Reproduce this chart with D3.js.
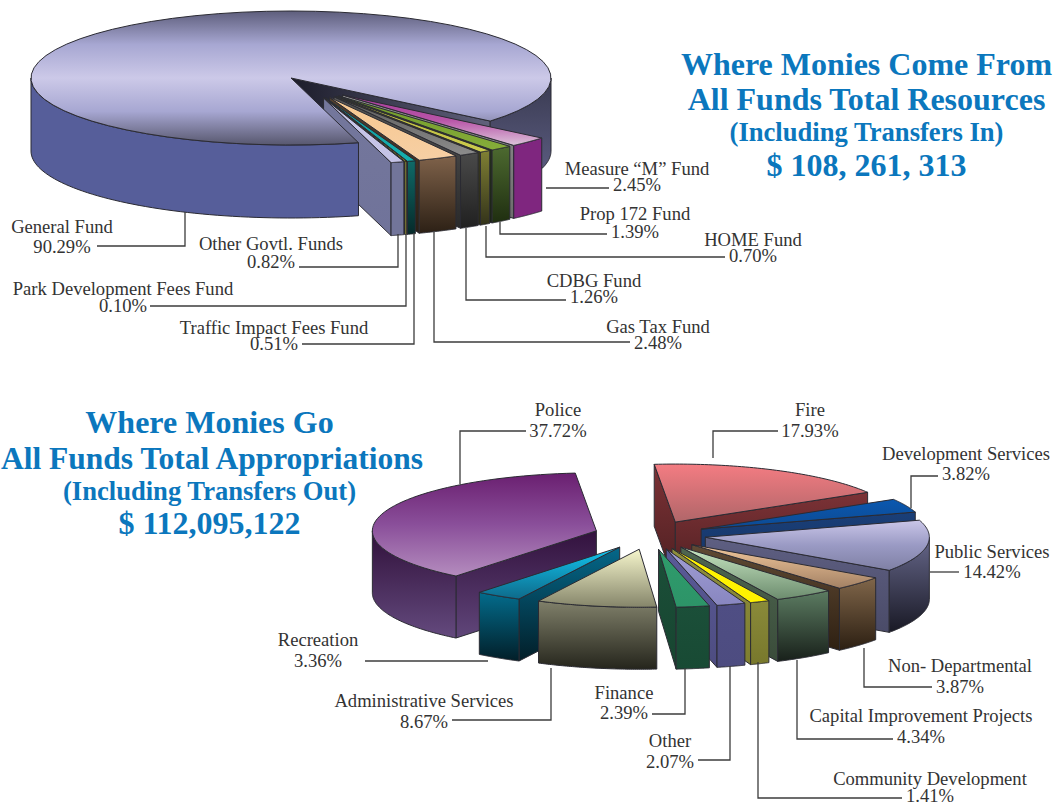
<!DOCTYPE html>
<html>
<head>
<meta charset="utf-8">
<title>Where Monies Come From / Where Monies Go</title>
<script src="https://cdn.jsdelivr.net/npm/d3@7/dist/d3.min.js"></script>
<style>
  html, body { margin: 0; padding: 0; background: #fff; }
  svg { display: block; font-family: "Liberation Serif", serif; }
</style>
</head>
<body>
<svg id="chart" width="1055" height="806"></svg>
<script>
// Revenue by fund, in the order the slices run clockwise from the notch
const sourceNames = ["Measure “M” Fund", "Prop 172 Fund", "HOME Fund", "CDBG Fund", "Gas Tax Fund",
  "Traffic Impact Fees Fund", "Park Development Fees Fund", "Other Govtl. Funds", "General Fund"];
const sourceShares = [2.45, 1.39, 0.70, 1.26, 2.48, 0.51, 0.10, 0.82, 90.29];

// Appropriations by department, clockwise from Fire
const useNames = ["Fire", "Development Services", "Public Services", "Non- Departmental",
  "Capital Improvement Projects", "Community Development", "Other", "Finance",
  "Administrative Services", "Recreation", "Police"];
const useShares = [17.93, 3.82, 14.42, 3.87, 4.34, 1.41, 2.07, 2.39, 8.67, 3.36, 37.72];

const sourceTitle = ["Where Monies Come From", "All Funds Total Resources", "(Including Transfers In)", "$ 108, 261, 313"];
const useTitle = ["Where Monies Go", "All Funds Total Appropriations", "(Including Transfers Out)", "$ 112,095,122"];

// Colour ramps per slice: top face, rim wall, cut wall
const sourceTop = [["#a63c9a","#b855a8","#dcc4da"],["#6f9a28","#86ad3a"],["#b8b83a","#cccc4e"],["#5a5a5a","#8c8c8c"],["#f8c890","#f6cfa4"],
  ["#0f9a9e","#16b0ae"],["#fff200","#fff200"],["#c9c7ea","#c4c2e6"],["#5e5e7c","#a7a7d2","#ccc9e8","#a7a7d2","#57576e"]];
const sourceWall = [["#7f267f","#7f267f"],["#4d6a30","#1f2e10"],["#808034","#33331a"],["#4a4a4a","#202020"],["#7f624a","#2c2015"],
  ["#0f6a68","#062a2a"],["#f4ee30","#f4ee30"],["#72759a","#72759a"],["#565e9a","#565e9a"]];
const sourceCut = [["#8f8f8f","#6d6d6d"],["#2a3a1c","#18220e"],["#4d4d22","#2a2a14"],["#555555","#2a2a2a"],["#55402e","#2a1f14"],
  ["#33443f","#1a2a28"],["#555533","#333320"],["#74779c","#70739a"],["#1c1c2a","#60617c"]];
const generalBackWall = ["#393a50","#62638a"];

const useTop = [["#f47c82","#b06669"],["#0a58b0","#0d4a92"],["#cac6e8","#9a9ac4","#7f80a4"],["#f2c89c","#a38164"],
  ["#c8e6c2","#6c8c6e"],["#fff200","#fff200"],["#a09ed4","#8886c0"],["#2f9c6c","#2d9468"],
  ["#f6f6cc","#85856a"],["#12c6f0","#0e6a8a"],["#6a1f70","#8a4f9a","#b48cbe"]];
const useWall = [["#85393d","#4c1a1d"],["#1b417c","#14305e"],["#66678a","#191925"],["#80664a","#2c1f12"],
  ["#5c7c62","#18201a"],["#8a8a3a","#78782c"],["#4f4e84","#4d4c80"],["#1b4f39","#184a34"],
  ["#80806a","#25251c"],["#036c8c","#021e28"],["#30103a","#644a7e"]];
const useCut = [["#7c3236","#4b1e20"],["#1a3f78","#14305e"],["#5e5f82","#4a4b68"],["#604a34","#2e2012"],
  ["#4e6650","#3a4c3a"],["#8e8e3c","#7e7e30"],["#5a5a98","#4d4c80"],["#1b4f39","#174530"],
  ["#80806a","#25251c"],["#05688a","#021e28"],["#33123e","#60467a"]];

// Placement of each slice's caption and the leader line drawn from it
const sourceLabels = [
  {x:637, y:[175,191], lead:[[609,188],[546,188]]},
  {x:635, y:[220,238], lead:[[607,234],[500,234],[500,222]]},
  {x:753, y:[246,262], lead:[[725,257],[486,257],[486,226]]},
  {x:594, y:[287,303], lead:[[566,300],[466,300],[466,228]]},
  {x:658, y:[333,349], lead:[[630,342],[434,342],[434,232]]},
  {x:274, y:[334,350], lead:[[302,344],[414,344],[414,233]]},
  {x:123, y:[295,312], lead:[[150,306],[406,306],[406,234]]},
  {x:271, y:[250,268], lead:[[299,267],[398,267],[398,234]]},
  {x:62,  y:[233,253], lead:[[97,246],[185,246],[185,212]]}
];
const useLabels = [
  {x:810, y:[416,437], lead:[[778,431],[713,431],[713,458]]},
  {x:966, y:[460,480], lead:[[938,476],[911,476],[911,508]]},
  {x:992, y:[558,578], lead:[[959,572],[930,572]]},
  {x:960, y:[672,693], lead:[[932,687],[864,687],[864,648]]},
  {x:921, y:[722,743], lead:[[893,739],[797,739],[797,660]]},
  {x:930, y:[785,802], lead:[[902,798],[758,798],[758,662]]},
  {x:670, y:[747,768], lead:[[698,760],[730,760],[730,666]]},
  {x:624, y:[699,719], lead:[[652,714],[685,714],[685,668]]},
  {x:424, y:[707,728], lead:[[452,720],[551,720],[551,668]]},
  {x:318, y:[646,667], lead:[[365,661],[488,661]]},
  {x:558, y:[416,437], lead:[[526,431],[460,431],[460,484]]}
];

const svg = d3.select("#chart");
const defs = svg.append("defs");
const deg = Math.PI / 180;
const EDGE = "#2b2b33";
let gradientCount = 0;

// Builds a linear gradient with evenly spaced stops and returns its url
function ramp(stops, across) {
  const id = "ramp" + (gradientCount++);
  const g = defs.append("linearGradient").attr("id", id)
    .attr("x1", 0).attr("y1", 0)
    .attr("x2", across ? 1 : 0).attr("y2", across ? 0 : 1);
  const place = d3.scaleLinear().domain([0, stops.length - 1]).range([0, 100]);
  stops.forEach((c, i) => g.append("stop").attr("offset", place(i) + "%").attr("stop-color", c));
  return "url(#" + id + ")";
}

const polygon = d3.line().x(p => p[0]).y(p => p[1]);

// Parts of an angular span that lie on the near half of the ellipse
function nearSpans(a0, a1) {
  const spans = [];
  for (let k = -1; k < 3; k++) {
    const lo = Math.max(a0, k * 2 * Math.PI), hi = Math.min(a1, k * 2 * Math.PI + Math.PI);
    if (hi > lo) spans.push([lo, hi]);
  }
  return spans;
}

function buildPie(cfg) {
  const arcs = d3.pie().sort(null).value(d => d)
    .startAngle(cfg.start * deg).endAngle(cfg.start * deg + 2 * Math.PI)(cfg.values);
  const rx = d3.scaleLinear().domain([0, 1]).range([0, cfg.rx]);
  const ry = d3.scaleLinear().domain([0, 1]).range([0, cfg.ry]);

  return arcs.map((a, i) => {
    // d3.pie measures from twelve o'clock; the projection measures from three o'clock
    const t0 = a.startAngle - Math.PI / 2, t1 = a.endAngle - Math.PI / 2, mid = (t0 + t1) / 2;
    const o = cfg.origin(i);
    const apex = [o.x + rx(o.pull * Math.cos(mid)), o.y + ry(o.pull * Math.sin(mid))];
    const rim = t => [apex[0] + rx(Math.cos(t)), apex[1] + ry(Math.sin(t))];
    const drop = p => [p[0], p[1] + cfg.depth];
    const sweep = (lo, hi) => d3.range(0, 61).map(k => rim(lo + (hi - lo) * k / 60));
    const paint = (g, pts, fill) => g.append("path").attr("d", polygon(pts) + "Z")
      .attr("fill", fill).attr("stroke", EDGE).attr("stroke-width", 1).attr("stroke-linejoin", "round");

    return {
      cut(g) {
        if (Math.cos(t0) < 0) paint(g, [apex, rim(t0), drop(rim(t0)), drop(apex)], ramp(cfg.cut[i]));
        if (Math.cos(t1) > 0) paint(g, [apex, rim(t1), drop(rim(t1)), drop(apex)], ramp(cfg.cut[i], cfg.notch === i));
      },
      wall(g, from, to, stops) {
        nearSpans(from === undefined ? t0 : from, to === undefined ? t1 : to).forEach(([lo, hi]) => {
          const edge = sweep(lo, hi);
          paint(g, edge.concat(edge.slice().reverse().map(drop)), ramp(stops || cfg.wall[i]));
        });
      },
      top(g) {
        paint(g, [apex].concat(sweep(t0, t1)), ramp(cfg.top[i]));
      },
      span: [t0, t1]
    };
  });
}

// Each caption is one text element holding the name and the share as two lines
function drawLabels(names, shares, labels) {
  const layer = svg.append("g");
  const fmt = d3.format(".2f");
  labels.forEach((l, i) => {
    layer.append("path").attr("d", polygon(l.lead)).attr("fill", "none")
      .attr("stroke", "#3c3c3c").attr("stroke-width", 1.3);
    const caption = layer.append("text").attr("text-anchor", "middle")
      .attr("font-size", 18.6).attr("fill", "#333");
    [names[i], fmt(shares[i]) + "%"].forEach((txt, k) => caption.append("tspan")
      .attr("x", l.x).attr("y", l.y[k]).text(txt));
  });
}

function drawTitle(lines, centers, baselines, sizes) {
  lines.forEach((txt, i) => svg.append("text")
    .attr("x", centers[i]).attr("y", baselines[i]).attr("text-anchor", "middle")
    .attr("font-size", sizes[i]).attr("font-weight", "bold").attr("fill", "#0b77bd").text(txt));
}

// Resources pie: the General Fund stays in place, the small funds slide out as a group
const GENERAL = 8;
const sourcePie = buildPie({
  values: sourceShares, start: 130, rx: 260, ry: 67, depth: 73,
  top: sourceTop, wall: sourceWall, cut: sourceCut, notch: GENERAL,
  origin: i => i === GENERAL ? {x: 291, y: 78, pull: 0} : {x: 311, y: 87, pull: 0.17}
});
const upper = svg.append("g");
const general = sourcePie[GENERAL];
general.cut(upper);
general.wall(upper, 360 * deg, general.span[1], generalBackWall);
d3.range(0, GENERAL).forEach(i => {
  sourcePie[i].cut(upper);
  sourcePie[i].wall(upper);
  sourcePie[i].top(upper);
});
general.wall(upper, general.span[0], 360 * deg);
general.top(upper);

// Appropriations pie: every slice pulled out by the same fraction
const usePie = buildPie({
  values: useShares, start: 354.6, rx: 224, ry: 58, depth: 62,
  top: useTop, wall: useWall, cut: useCut,
  origin: () => ({x: 650, y: 535, pull: 0.25})
});
const lower = svg.append("g");
[10, 9, 8, 0, 1, 2, 3, 4, 5, 6, 7].forEach(i => {
  usePie[i].cut(lower);
  usePie[i].wall(lower);
  usePie[i].top(lower);
});

drawLabels(sourceNames, sourceShares, sourceLabels);
drawLabels(useNames, useShares, useLabels);
drawTitle(sourceTitle, [866.5, 866.5, 866.5, 866.5], [75, 110, 141, 176], [32, 32, 26.6, 32]);
drawTitle(useTitle, [209.5, 212, 209.5, 209.5], [433, 469, 500, 534], [32, 31.5, 26.6, 32]);
</script>
</body>
</html>
